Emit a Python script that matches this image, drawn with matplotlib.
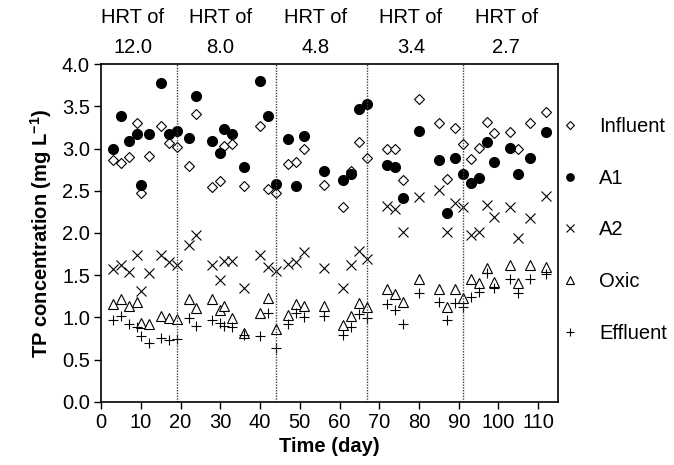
import numpy as np
import matplotlib
matplotlib.use("Agg")
from matplotlib import pyplot as plt

plt.rcParams['font.family'] = ['Liberation Sans', 'DejaVu Sans']
plt.rcParams['mathtext.fontset'] = 'custom'
plt.rcParams['mathtext.rm'] = 'Liberation Sans'
plt.rcParams['mathtext.bf'] = 'Liberation Sans:bold'

# sampling days
days = [3, 5, 7, 9, 10, 12, 15, 17, 19, 22, 24, 28, 30, 31, 33, 36, 40, 42, 44,
        47, 49, 51, 56, 61, 63, 65, 67, 72, 74, 76, 80, 85, 87, 89, 91, 93, 95,
        97, 99, 103, 105, 108, 112]

influent = [2.87, 2.83, 2.90, 3.30, 2.47, 2.91, 3.27, 3.07, 3.02, 2.79, 3.41,
            2.55, 2.62, 3.03, 3.06, 2.56, 3.27, 2.52, 2.47, 2.82, 2.84, 2.99,
            2.57, 2.31, 2.74, 3.08, 2.89, 2.99, 2.99, 2.63, 3.59, 3.30, 2.64,
            3.24, 3.06, 2.88, 3.01, 3.32, 3.18, 3.20, 2.99, 3.30, 3.43]
a1 = [2.99, 3.38, 3.09, 3.17, 2.57, 3.17, 3.78, 3.17, 3.21, 3.13, 3.62, 3.09,
      2.95, 3.23, 3.17, 2.78, 3.80, 3.38, 2.58, 3.11, 2.56, 3.15, 2.74, 2.63,
      2.70, 3.47, 3.53, 2.80, 2.78, 2.41, 3.21, 2.87, 2.24, 2.89, 2.70, 2.59,
      2.65, 3.08, 2.84, 3.01, 2.70, 2.89, 3.20]
a2 = [1.57, 1.62, 1.54, 1.74, 1.31, 1.52, 1.74, 1.66, 1.62, 1.86, 1.97, 1.62,
      1.44, 1.67, 1.67, 1.35, 1.74, 1.60, 1.55, 1.63, 1.66, 1.77, 1.58, 1.35,
      1.62, 1.79, 1.69, 2.32, 2.28, 2.01, 2.43, 2.51, 2.01, 2.36, 2.31, 1.97,
      2.01, 2.33, 2.19, 2.31, 1.94, 2.18, 2.44]
oxic = [1.16, 1.22, 1.14, 1.18, 0.93, 0.92, 1.02, 0.99, 0.98, 1.22, 1.11, 1.22,
        1.09, 1.13, 0.99, 0.82, 1.05, 1.23, 0.86, 1.03, 1.16, 1.14, 1.14, 0.91,
        1.02, 1.17, 1.12, 1.34, 1.28, 1.18, 1.45, 1.34, 1.12, 1.34, 1.23, 1.45,
        1.41, 1.58, 1.42, 1.62, 1.41, 1.62, 1.60]
effluent = [0.97, 1.02, 0.92, 0.88, 0.78, 0.70, 0.75, 0.73, 0.74, 0.99, 0.90,
            0.97, 0.93, 0.90, 0.88, 0.79, 0.78, 1.05, 0.64, 0.92, 1.05, 1.01,
            1.02, 0.79, 0.88, 1.04, 0.99, 1.16, 1.09, 0.92, 1.29, 1.18, 0.97,
            1.17, 1.12, 1.24, 1.30, 1.53, 1.35, 1.45, 1.29, 1.45, 1.51]

# HRT phase boundaries and labels
bounds = [19, 44, 67, 91]
hrt_pos = [8, 30, 54, 78, 102]
hrt_labels = ['12.0', '8.0', '4.8', '3.4', '2.7']

fig = plt.figure(figsize=(6.74, 4.65), dpi=100)
ax = fig.add_axes([0.150, 0.136, 0.678, 0.726])

ax.plot(days, influent, 'D', ms=5.5, mfc='white', mec='black', mew=0.8, label='Influent')
ax.plot(days, a1, 'o', ms=7, mfc='black', mec='black', label='A1')
ax.plot(days, a2, 'x', ms=7, mec='black', mew=0.8, label='A2')
ax.plot(days, oxic, '^', ms=7.5, mfc='white', mec='black', mew=0.8, label='Oxic')
ax.plot(days, effluent, '+', ms=7.5, mec='black', mew=0.8, label='Effluent')

for b in bounds:
    ax.axvline(b, color='0.25', lw=1.0, ls=(0, (1, 1)))

for xp, lab in zip(hrt_pos, hrt_labels):
    ax.text(xp, 4.55, 'HRT of', ha='center', va='center', fontsize=14.5)
    ax.text(xp, 4.2, lab, ha='center', va='center', fontsize=14.5)

ax.set_xlim(0, 115)
ax.set_ylim(0, 4.0)
ax.set_xticks(np.arange(0, 111, 10))
ax.set_yticks(np.arange(0, 4.01, 0.5))
ax.yaxis.set_major_formatter(matplotlib.ticker.FormatStrFormatter('%.1f'))
ax.tick_params(direction='out', length=5, width=1, labelsize=14.5, pad=3)
for s in ax.spines.values():
    s.set_linewidth(1.2)

ax.set_xlabel('Time (day)', fontsize=14.5, fontweight='bold', labelpad=4)
ax.set_ylabel(r'TP concentration (mg L$^{\mathbf{-1}}$)', fontsize=14.5,
              fontweight='bold', labelpad=6)

leg = ax.legend(loc='upper left', bbox_to_anchor=(1.0, 0.855), frameon=False,
                fontsize=14.5, markerscale=0.75, handlelength=0.8,
                handletextpad=1.05, labelspacing=1.62, borderaxespad=0.0,
                borderpad=0.2)

fig.savefig('out.png', dpi=100)
